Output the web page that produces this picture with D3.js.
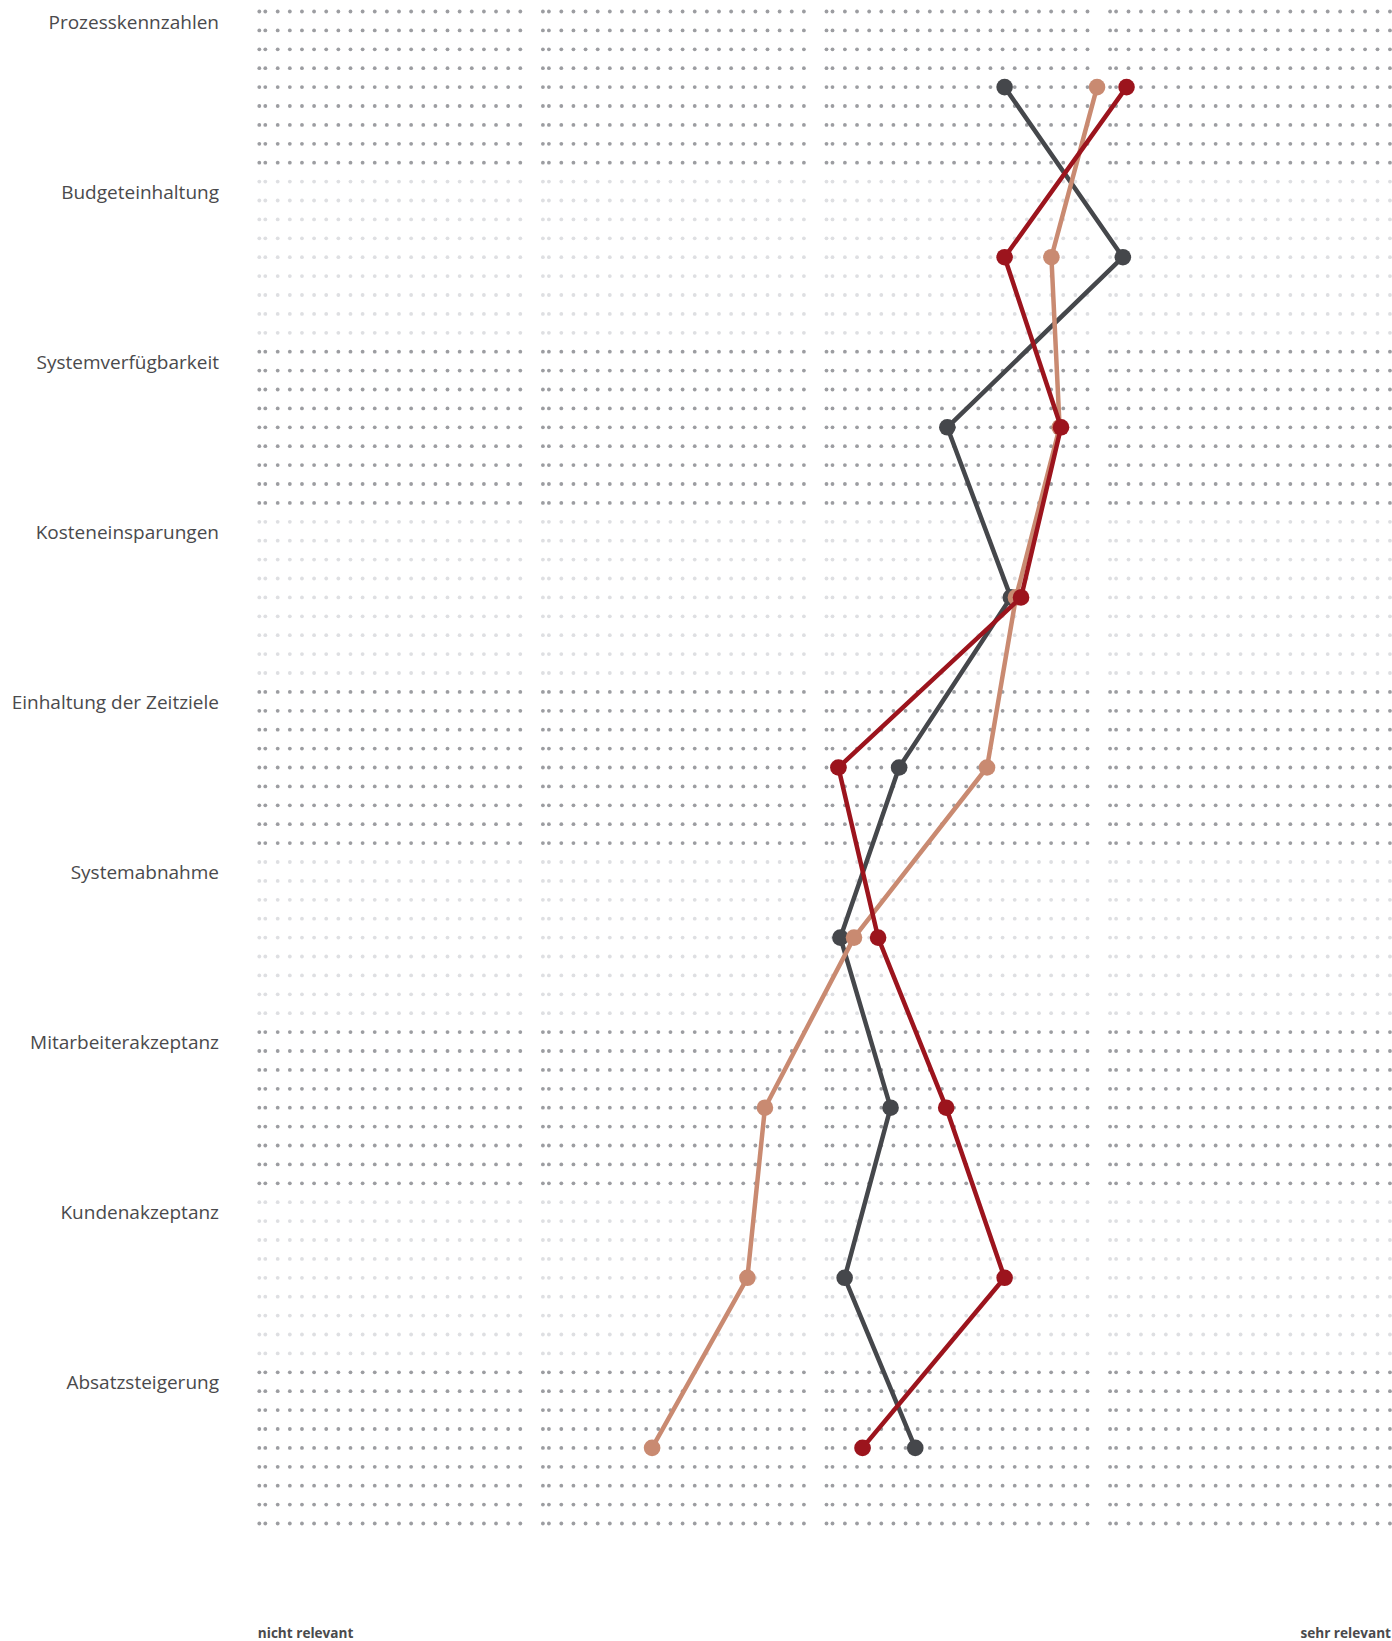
<!DOCTYPE html>
<html>
<head>
<meta charset="utf-8">
<script src="https://cdn.jsdelivr.net/npm/d3@7"></script>
<style>
  html, body { margin: 0; padding: 0; background: #ffffff; }
  svg { display: block; }
</style>
</head>
<body>
<svg id="chart" width="1392" height="1641"></svg>
<script>
const categories = [
  "Prozesskennzahlen",
  "Budgeteinhaltung",
  "Systemverfügbarkeit",
  "Kosteneinsparungen",
  "Einhaltung der Zeitziele",
  "Systemabnahme",
  "Mitarbeiterakzeptanz",
  "Kundenakzeptanz",
  "Absatzsteigerung"
];
// Scale 1 = "nicht relevant" … 5 = "sehr relevant"
const seriesDark = [3.628, 4.045, 3.426, 3.650, 3.256, 3.049, 3.226, 3.064, 3.313];
const seriesTan  = [3.954, 3.793, 3.822, 3.668, 3.566, 3.097, 2.783, 2.721, 2.385];
const seriesRed  = [4.058, 3.628, 3.827, 3.686, 3.042, 3.182, 3.422, 3.628, 3.127];
const axisLabels = ["nicht relevant", "sehr relevant"];
const scaleSteps = [1, 2, 3, 4, 5];

const series = [
  { name: "dark", values: seriesDark, color: "#45474b" },
  { name: "tan",  values: seriesTan,  color: "#c98a71" },
  { name: "red",  values: seriesRed,  color: "#9c141d" }
];

const svg = d3.select("#chart");
const rowsPerCat = 9;
const nRows = categories.length * rowsPerCat;

const x = d3.scaleLinear().domain([1, 5]).range([259.3, 1393.7]);
const yRow = d3.scaleLinear().domain([0, nRows - 1]).range([11.5, 11.5 + 18.9 * (nRows - 1)]);
const yCat = i => yRow(i * rowsPerCat + 4);

// dotted background grid
const grid = svg.append("g");
const dotXs = [];
scaleSteps.slice(0, 4).forEach((s, b) => {
  const start = x(s);
  dotXs.push(start, start + 6);
  const n = b === 3 ? 22 : 21;
  const step = b === 3 ? 12.45 : 12.13;
  for (let j = 0; j < n; j++) dotXs.push(start + 18.4 + step * j);
});
d3.range(nRows).forEach(r => {
  const cat = Math.floor(r / rowsPerCat);
  const col = cat % 2 === 0 ? "#9c9da1" : "#dedfe2";
  grid.selectAll(null).data(dotXs).enter().append("circle")
    .attr("cx", d => d)
    .attr("cy", yRow(r))
    .attr("r", 1.9)
    .attr("fill", col);
});

// category labels
svg.append("g").selectAll("text").data(categories).enter().append("text")
  .attr("x", 219)
  .attr("y", (d, i) => yRow(i * rowsPerCat) + 17)
  .attr("text-anchor", "end")
  .attr("font-family", "'Open Sans', sans-serif")
  .attr("font-size", 19)
  .attr("fill", "#4a4a4c")
  .text(d => d);

// lines and points
const line = d3.line().x(d => x(d)).y((d, i) => yCat(i));
series.forEach(s => {
  const g = svg.append("g");
  g.append("path")
    .datum(s.values)
    .attr("d", line)
    .attr("fill", "none")
    .attr("stroke", s.color)
    .attr("stroke-width", 4.5)
    .attr("stroke-linejoin", "round");
  g.selectAll("circle").data(s.values).enter().append("circle")
    .attr("cx", d => x(d))
    .attr("cy", (d, i) => yCat(i))
    .attr("r", 8.3)
    .attr("fill", s.color);
});

// axis end labels
svg.append("text")
  .attr("x", x(1) - 1.5)
  .attr("y", 1638)
  .attr("font-family", "'Open Sans', sans-serif")
  .attr("font-weight", "bold")
  .attr("font-size", 13.6)
  .attr("fill", "#4a4a4c")
  .text(axisLabels[0]);
svg.append("text")
  .attr("x", 1391)
  .attr("y", 1638)
  .attr("text-anchor", "end")
  .attr("font-family", "'Open Sans', sans-serif")
  .attr("font-weight", "bold")
  .attr("font-size", 13.6)
  .attr("fill", "#4a4a4c")
  .text(axisLabels[1]);
</script>
</body>
</html>
